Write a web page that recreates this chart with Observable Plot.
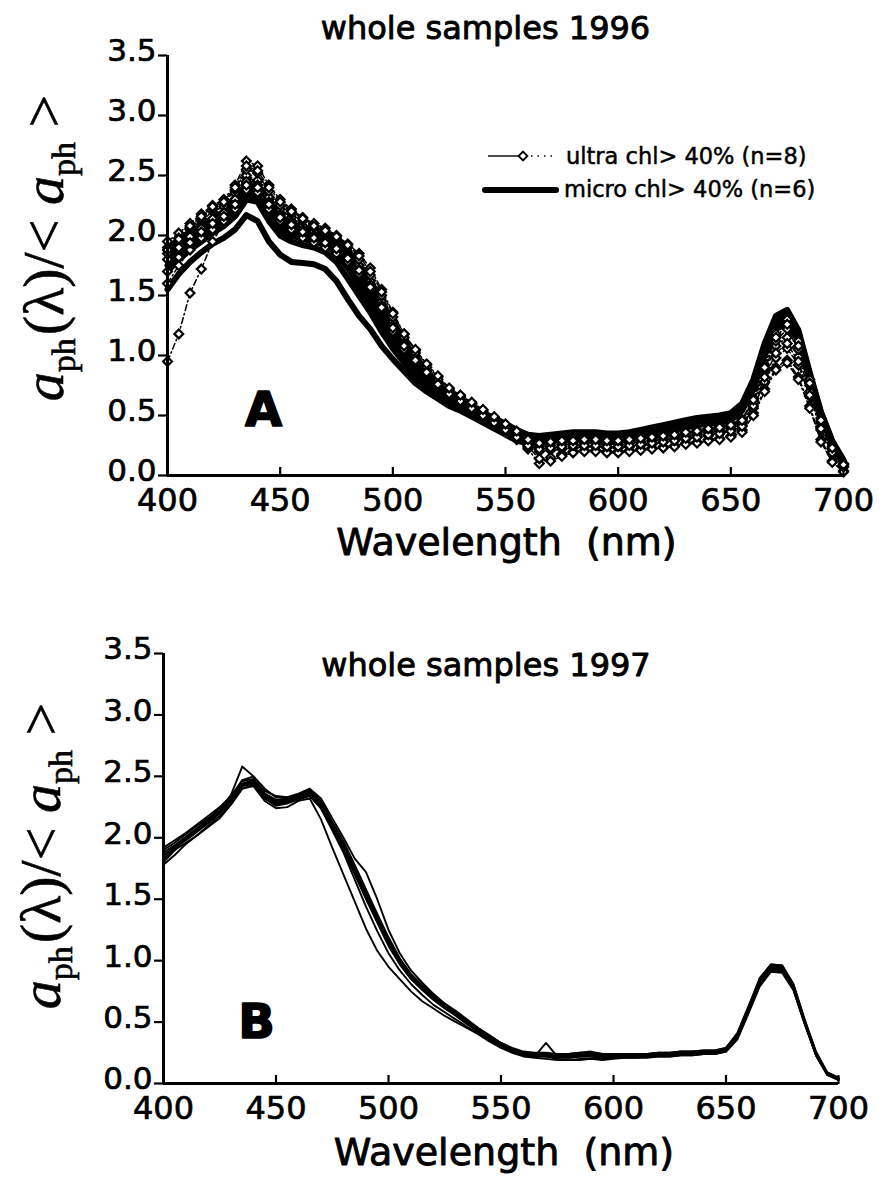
<!DOCTYPE html>
<html>
<head>
<meta charset="utf-8">
<script src="https://cdn.jsdelivr.net/npm/d3@7"></script>
<script src="https://cdn.jsdelivr.net/npm/@observablehq/plot@0.6"></script>
<style>
  html, body { margin: 0; padding: 0; background: #fff; }
  #chart { width: 887px; }
  #chart svg { display: block; }
  #chart g[aria-label="y-axis tick label"],
  #chart g[aria-label="x-axis tick label"] { stroke: black; stroke-width: 0.7px; }
</style>
</head>
<body>
<div id="chart"></div>
<script>
// Wavelength grid (nm), 5 nm steps
const wavelengths = [
  400,405,410,415,420,425,430,435,440,445,
  450,455,460,465,470,475,480,485,490,495,
  500,505,510,515,520,525,530,535,540,545,
  550,555,560,565,570,575,580,585,590,595,
  600,605,610,615,620,625,630,635,640,645,
  650,655,660,665,670,675,680,685,690,695,
  700
];

const xTicks = [400, 450, 500, 550, 600, 650, 700];
const yTicks = [0, 0.5, 1, 1.5, 2, 2.5, 3, 3.5];

// 1996: microplankton-dominated samples (micro chl > 40%), n = 6
const micro1996 = [
  [1.55,1.68,1.78,1.86,1.93,1.98,2.05,2.17,2.12,1.95,
   1.84,1.78,1.77,1.76,1.72,1.62,1.47,1.33,1.22,1.08,
   0.97,0.87,0.77,0.70,0.64,0.58,0.54,0.49,0.44,0.39,
   0.34,0.29,0.27,0.28,0.29,0.30,0.31,0.31,0.31,0.30,
   0.30,0.31,0.33,0.35,0.37,0.39,0.41,0.43,0.44,0.45,
   0.47,0.56,0.78,1.08,1.30,1.35,1.18,0.84,0.52,0.28,
   0.12],
  [1.70,1.80,1.88,1.95,2.02,2.08,2.16,2.30,2.28,2.12,
   2.00,1.95,1.92,1.90,1.86,1.78,1.64,1.50,1.36,1.20,
   1.06,0.94,0.83,0.74,0.67,0.61,0.56,0.51,0.46,0.42,
   0.37,0.32,0.29,0.29,0.30,0.31,0.32,0.32,0.32,0.31,
   0.31,0.32,0.34,0.36,0.38,0.40,0.42,0.44,0.45,0.46,
   0.48,0.56,0.76,1.05,1.27,1.32,1.16,0.82,0.50,0.27,
   0.11],
  [1.80,1.88,1.95,2.02,2.08,2.13,2.22,2.36,2.34,2.20,
   2.08,2.03,2.00,1.98,1.95,1.88,1.76,1.62,1.47,1.30,
   1.14,1.00,0.88,0.78,0.70,0.63,0.58,0.53,0.48,0.44,
   0.39,0.34,0.30,0.30,0.31,0.32,0.33,0.33,0.33,0.32,
   0.32,0.33,0.35,0.37,0.39,0.41,0.43,0.45,0.46,0.47,
   0.49,0.57,0.77,1.06,1.28,1.33,1.17,0.83,0.51,0.27,
   0.11],
  [1.85,1.92,1.98,2.05,2.12,2.17,2.27,2.40,2.38,2.25,
   2.14,2.08,2.05,2.03,2.00,1.94,1.83,1.70,1.55,1.38,
   1.21,1.06,0.93,0.82,0.73,0.66,0.60,0.55,0.50,0.46,
   0.41,0.36,0.32,0.31,0.32,0.33,0.34,0.34,0.34,0.33,
   0.33,0.34,0.36,0.38,0.40,0.42,0.44,0.46,0.47,0.48,
   0.50,0.58,0.78,1.08,1.31,1.36,1.19,0.84,0.52,0.28,
   0.12],
  [1.75,1.84,1.92,1.98,2.05,2.10,2.19,2.32,2.30,2.16,
   2.05,2.00,1.97,1.95,1.92,1.85,1.73,1.58,1.42,1.26,
   1.10,0.97,0.86,0.76,0.68,0.62,0.57,0.52,0.47,0.43,
   0.38,0.33,0.29,0.28,0.29,0.30,0.30,0.30,0.30,0.29,
   0.29,0.30,0.32,0.34,0.36,0.38,0.40,0.42,0.43,0.44,
   0.46,0.54,0.72,1.00,1.22,1.27,1.12,0.79,0.48,0.26,
   0.10],
  [1.90,1.96,2.02,2.08,2.14,2.20,2.30,2.43,2.41,2.28,
   2.16,2.10,2.07,2.05,2.03,1.98,1.88,1.76,1.62,1.45,
   1.28,1.12,0.98,0.86,0.76,0.68,0.62,0.57,0.52,0.48,
   0.43,0.38,0.34,0.33,0.34,0.35,0.36,0.36,0.36,0.35,
   0.35,0.36,0.38,0.40,0.42,0.44,0.46,0.48,0.49,0.50,
   0.52,0.60,0.80,1.10,1.33,1.38,1.21,0.86,0.53,0.29,
   0.13]
];

// 1996: ultraplankton-dominated samples (ultra chl > 40%), n = 8
const ultra1996 = [
  [0.95,1.18,1.52,1.72,1.95,2.10,2.28,2.48,2.45,2.30,
   2.18,2.12,2.05,2.00,1.96,1.92,1.84,1.73,1.58,1.40,
   1.22,1.07,0.95,0.85,0.75,0.67,0.61,0.55,0.49,0.43,
   0.37,0.30,0.23,0.20,0.21,0.22,0.23,0.24,0.24,0.23,
   0.23,0.24,0.25,0.26,0.28,0.29,0.30,0.32,0.33,0.35,
   0.37,0.41,0.56,0.78,0.98,1.06,0.92,0.66,0.38,0.18,
   0.07],
  [1.95,2.02,2.10,2.18,2.25,2.30,2.42,2.62,2.58,2.42,
   2.30,2.22,2.15,2.10,2.06,2.00,1.93,1.85,1.73,1.55,
   1.36,1.18,1.04,0.92,0.82,0.72,0.66,0.60,0.54,0.48,
   0.42,0.36,0.30,0.28,0.29,0.30,0.30,0.31,0.31,0.30,
   0.30,0.31,0.32,0.33,0.34,0.35,0.36,0.38,0.39,0.41,
   0.43,0.47,0.64,0.92,1.18,1.30,1.12,0.80,0.48,0.24,
   0.10],
  [1.85,1.95,2.05,2.12,2.20,2.24,2.35,2.50,2.46,2.32,
   2.22,2.15,2.08,2.03,1.98,1.93,1.85,1.75,1.62,1.45,
   1.28,1.12,0.99,0.88,0.78,0.69,0.63,0.57,0.51,0.45,
   0.39,0.33,0.26,0.24,0.25,0.26,0.26,0.27,0.27,0.26,
   0.26,0.27,0.28,0.29,0.30,0.31,0.33,0.34,0.36,0.37,
   0.39,0.43,0.60,0.86,1.08,1.15,0.99,0.70,0.41,0.20,
   0.08],
  [1.60,1.75,1.88,1.98,2.05,2.12,2.22,2.38,2.36,2.22,
   2.12,2.05,1.98,1.94,1.90,1.85,1.78,1.68,1.55,1.38,
   1.20,1.05,0.94,0.84,0.74,0.66,0.60,0.54,0.48,0.42,
   0.36,0.30,0.22,0.10,0.15,0.18,0.20,0.21,0.21,0.20,
   0.20,0.21,0.22,0.23,0.24,0.25,0.27,0.28,0.30,0.31,
   0.33,0.38,0.52,0.72,0.90,0.96,0.82,0.58,0.30,0.12,
   0.04],
  [1.90,1.98,2.06,2.14,2.22,2.27,2.38,2.55,2.52,2.37,
   2.25,2.18,2.12,2.07,2.02,1.97,1.90,1.80,1.67,1.50,
   1.32,1.15,1.02,0.90,0.80,0.71,0.65,0.59,0.53,0.47,
   0.41,0.35,0.28,0.26,0.27,0.28,0.28,0.29,0.29,0.28,
   0.28,0.29,0.30,0.31,0.32,0.33,0.35,0.36,0.38,0.39,
   0.41,0.45,0.62,0.88,1.12,1.22,1.05,0.75,0.44,0.22,
   0.09],
  [1.80,1.90,1.99,2.06,2.14,2.19,2.30,2.45,2.42,2.28,
   2.17,2.11,2.05,2.00,1.96,1.91,1.83,1.72,1.59,1.42,
   1.25,1.10,0.97,0.86,0.76,0.67,0.61,0.55,0.49,0.43,
   0.37,0.31,0.24,0.14,0.12,0.16,0.19,0.20,0.20,0.19,
   0.19,0.20,0.21,0.22,0.23,0.24,0.26,0.27,0.29,0.30,
   0.32,0.36,0.50,0.70,0.88,0.94,0.80,0.56,0.28,0.11,
   0.03],
  [1.70,1.82,1.94,2.03,2.10,2.16,2.26,2.42,2.40,2.26,
   2.15,2.09,2.03,1.98,1.94,1.89,1.81,1.71,1.57,1.40,
   1.23,1.08,0.96,0.86,0.76,0.68,0.62,0.56,0.50,0.44,
   0.38,0.32,0.25,0.22,0.23,0.24,0.25,0.25,0.25,0.24,
   0.24,0.25,0.26,0.27,0.28,0.29,0.31,0.32,0.34,0.35,
   0.37,0.41,0.58,0.82,1.02,1.10,0.95,0.67,0.39,0.19,
   0.07],
  [1.88,1.97,2.08,2.16,2.24,2.28,2.40,2.58,2.54,2.40,
   2.28,2.20,2.14,2.08,2.04,1.99,1.92,1.83,1.70,1.53,
   1.35,1.18,1.05,0.93,0.83,0.73,0.67,0.61,0.55,0.49,
   0.43,0.37,0.30,0.27,0.28,0.29,0.29,0.30,0.30,0.29,
   0.29,0.30,0.31,0.32,0.33,0.34,0.36,0.37,0.39,0.40,
   0.42,0.46,0.63,0.90,1.15,1.26,1.08,0.77,0.46,0.23,
   0.09]
];

// 1997: whole samples
const whole1997 = [
  [1.85,1.92,1.98,2.05,2.12,2.20,2.30,2.42,2.45,2.35,
   2.30,2.30,2.33,2.35,2.25,2.08,1.92,1.72,1.52,1.33,
   1.14,0.98,0.86,0.77,0.69,0.62,0.56,0.49,0.43,0.37,
   0.31,0.27,0.24,0.23,0.23,0.22,0.22,0.23,0.23,0.22,
   0.22,0.22,0.22,0.22,0.23,0.23,0.24,0.24,0.25,0.25,
   0.27,0.38,0.60,0.82,0.94,0.93,0.78,0.50,0.24,0.08,
   0.04],
  [1.80,1.90,2.00,2.08,2.15,2.22,2.35,2.58,2.50,2.32,
   2.26,2.28,2.35,2.38,2.28,2.10,1.94,1.75,1.55,1.36,
   1.17,1.00,0.88,0.79,0.71,0.64,0.57,0.50,0.44,0.38,
   0.32,0.28,0.25,0.24,0.24,0.23,0.23,0.24,0.24,0.23,
   0.23,0.23,0.23,0.23,0.24,0.24,0.25,0.25,0.26,0.26,
   0.28,0.40,0.62,0.84,0.96,0.95,0.80,0.51,0.25,0.09,
   0.04],
  [1.82,1.90,1.96,2.02,2.10,2.18,2.28,2.40,2.42,2.30,
   2.24,2.25,2.30,2.32,2.15,1.92,1.70,1.48,1.26,1.08,
   0.95,0.85,0.75,0.67,0.61,0.55,0.50,0.45,0.40,0.34,
   0.29,0.25,0.22,0.21,0.20,0.19,0.19,0.20,0.20,0.19,
   0.20,0.21,0.21,0.22,0.22,0.22,0.23,0.23,0.24,0.24,
   0.26,0.36,0.58,0.80,0.92,0.91,0.76,0.49,0.23,0.07,
   0.03],
  [1.90,1.96,2.03,2.10,2.16,2.24,2.33,2.46,2.48,2.38,
   2.34,2.33,2.36,2.40,2.32,2.16,2.00,1.83,1.72,1.50,
   1.25,1.06,0.92,0.82,0.73,0.65,0.59,0.52,0.45,0.39,
   0.33,0.28,0.25,0.24,0.24,0.23,0.23,0.24,0.24,0.23,
   0.23,0.23,0.23,0.23,0.24,0.24,0.25,0.25,0.26,0.26,
   0.28,0.39,0.62,0.86,0.97,0.96,0.80,0.51,0.25,0.08,
   0.04],
  [1.78,1.86,1.95,2.02,2.09,2.16,2.27,2.40,2.43,2.32,
   2.27,2.28,2.31,2.34,2.24,2.07,1.90,1.70,1.50,1.31,
   1.12,0.97,0.85,0.76,0.68,0.61,0.55,0.48,0.42,0.36,
   0.30,0.26,0.23,0.22,0.33,0.22,0.21,0.22,0.22,0.21,
   0.21,0.21,0.21,0.21,0.22,0.22,0.23,0.23,0.24,0.24,
   0.26,0.36,0.57,0.79,0.91,0.90,0.76,0.48,0.23,0.07,
   0.03],
  [1.88,1.94,2.01,2.08,2.14,2.22,2.32,2.44,2.47,2.36,
   2.31,2.31,2.34,2.37,2.27,2.10,1.94,1.74,1.54,1.35,
   1.16,0.99,0.87,0.78,0.70,0.63,0.57,0.50,0.44,0.38,
   0.32,0.28,0.25,0.24,0.24,0.23,0.24,0.25,0.26,0.24,
   0.23,0.23,0.23,0.24,0.25,0.25,0.26,0.26,0.27,0.27,
   0.29,0.40,0.62,0.84,0.95,0.94,0.79,0.50,0.24,0.08,
   0.04],
  [1.83,1.91,1.99,2.06,2.13,2.21,2.31,2.43,2.46,2.34,
   2.29,2.29,2.32,2.36,2.26,2.09,1.93,1.73,1.53,1.34,
   1.15,0.98,0.86,0.77,0.69,0.62,0.56,0.49,0.43,0.37,
   0.31,0.27,0.24,0.23,0.22,0.20,0.19,0.19,0.20,0.20,
   0.21,0.22,0.22,0.22,0.23,0.23,0.24,0.24,0.25,0.25,
   0.27,0.38,0.60,0.82,0.93,0.92,0.77,0.49,0.23,0.07,
   0.03],
  [1.86,1.93,2.00,2.07,2.14,2.21,2.30,2.42,2.44,2.33,
   2.28,2.29,2.32,2.35,2.24,2.06,1.88,1.66,1.44,1.24,
   1.06,0.92,0.81,0.72,0.64,0.58,0.52,0.46,0.41,0.35,
   0.30,0.26,0.23,0.22,0.22,0.21,0.21,0.22,0.22,0.21,
   0.21,0.22,0.22,0.22,0.23,0.23,0.24,0.24,0.25,0.25,
   0.27,0.37,0.59,0.81,0.93,0.92,0.77,0.49,0.23,0.08,
   0.04],
  [1.92,1.98,2.04,2.11,2.18,2.25,2.34,2.47,2.50,2.40,
   2.33,2.32,2.35,2.39,2.30,2.13,1.97,1.78,1.58,1.38,
   1.19,1.02,0.89,0.80,0.72,0.65,0.58,0.51,0.45,0.39,
   0.33,0.29,0.26,0.25,0.25,0.24,0.24,0.25,0.25,0.24,
   0.24,0.24,0.24,0.24,0.25,0.25,0.26,0.26,0.27,0.27,
   0.29,0.41,0.63,0.85,0.97,0.96,0.81,0.52,0.26,0.09,
   0.05]
];

const titles = ["whole samples 1996", "whole samples 1997"];
const panelLetters = ["A", "B"];
const xLabel = "Wavelength  (nm)";
const legendLabels = ["ultra chl> 40% (n=8)", "micro chl> 40% (n=6)"];

// long-format rows for Plot
function toRows(seriesList, group) {
  const rows = [];
  seriesList.forEach((values, s) => {
    values.forEach((v, i) => rows.push({wavelength: wavelengths[i], value: v, series: `${group}-${s}`}));
  });
  return rows;
}

const microRows = toRows(micro1996, "micro");
const ultraRows = toRows(ultra1996, "ultra");
const rows1997 = toRows(whole1997, "whole");

const SANS = "DejaVu Sans, Arial, sans-serif";
const SERIF = "Liberation Serif, Times New Roman, serif";

function frameMarks({title, titleDx, titleDy, letter, letterDx, letterDy, labelDx, labelDy}) {
  return [
    Plot.ruleX([400], {strokeWidth: 3}),
    Plot.ruleY([0], {strokeWidth: 3.2}),
    // y ticks (outward) and their labels, the labels sitting slightly above each tick
    Plot.axisY({ticks: yTicks, tickSize: 9, strokeWidth: 2.2, text: null, label: null}),
    Plot.axisY({ticks: yTicks, tickFormat: d3.format(".1f"), tickSize: 0, tickPadding: 11,
      fontSize: 31, dy: -4, label: null}),
    // x labels below, x ticks pointing up into the plot
    Plot.axisX({ticks: xTicks, tickSize: 0, tickPadding: 13, fontSize: 32, label: null}),
    Plot.axisX({ticks: xTicks, anchor: "top", frameAnchor: "bottom", tickSize: 9,
      strokeWidth: 2.2, text: null, label: null}),
    Plot.text([title], {frameAnchor: "top", dx: titleDx, dy: titleDy, lineAnchor: "bottom",
      fontSize: 32, fill: "black", stroke: "black", strokeWidth: 0.9}),
    Plot.text([xLabel], {frameAnchor: "bottom", dx: labelDx, dy: labelDy, lineAnchor: "bottom",
      fontSize: 38, fill: "black", stroke: "black", strokeWidth: 0.9}),
    Plot.text([letter], {frameAnchor: "bottom-left", dx: letterDx, dy: letterDy, lineAnchor: "bottom",
      textAnchor: "middle", fontSize: 48, fontWeight: "bold", fill: "black", stroke: "black", strokeWidth: 1.6})
  ];
}

// y-axis label: a_ph(λ)/< a_ph >
function addYLabel(svg, x, y) {
  const t = d3.select(svg).append("text")
    .attr("transform", `translate(${x},${y}) rotate(-90)`)
    .attr("text-anchor", "middle")
    .attr("font-family", SERIF)
    .attr("font-size", 58)
    .attr("fill", "black")
    .attr("stroke", "black")
    .attr("stroke-width", 0.6);
  t.append("tspan").attr("font-style", "italic").text("a");
  t.append("tspan").attr("font-size", 34).attr("dy", 12).text("ph");
  t.append("tspan").attr("dy", -12).attr("dx", 3).text("(λ)/< ");
  t.append("tspan").attr("font-style", "italic").text("a");
  t.append("tspan").attr("font-size", 34).attr("dy", 12).text("ph");
  t.append("tspan").attr("dy", -12).text(" >");
}

const chart = document.getElementById("chart");

// Panel A — 1996
const svgA = Plot.plot({
  width: 887, height: 590,
  marginTop: 55, marginBottom: 115, marginLeft: 167, marginRight: 44,
  x: {domain: [400, 700]},
  y: {domain: [0, 3.5]},
  style: {fontFamily: SANS, color: "black", background: "white", overflow: "visible"},
  marks: [
    Plot.line(microRows, {x: "wavelength", y: "value", z: "series", stroke: "black",
      strokeWidth: 6, strokeLinejoin: "round"}),
    Plot.line(ultraRows, {x: "wavelength", y: "value", z: "series", stroke: "black",
      strokeWidth: 1.5, strokeDasharray: "6,3,1.5,3"}),
    Plot.dot(ultraRows, {x: "wavelength", y: "value", symbol: "diamond2", r: 4,
      fill: "white", stroke: "black", strokeWidth: 2.2}),
    ...frameMarks({title: titles[0], titleDx: -20, titleDy: -17, letter: panelLetters[0],
      letterDx: 96, letterDy: -50, labelDx: 1, labelDy: 79})
  ]
});
addYLabel(svgA, 63, 248);

// legend for panel A
{
  const g = d3.select(svgA).append("g")
    .attr("font-family", SANS).attr("font-size", 22.5).attr("fill", "black")
    .attr("text-anchor", "start");
  const y1 = 156, y2 = 189;
  g.append("line").attr("x1", 488).attr("x2", 518).attr("y1", y1).attr("y2", y1)
    .attr("stroke", "black").attr("stroke-width", 1.4);
  g.append("path").attr("d", d3.symbol(d3.symbolDiamond2, 50)())
    .attr("transform", `translate(523,${y1})`)
    .attr("fill", "white").attr("stroke", "black").attr("stroke-width", 1.8);
  g.append("line").attr("x1", 531).attr("x2", 556).attr("y1", y1).attr("y2", y1)
    .attr("stroke", "black").attr("stroke-width", 1.4).attr("stroke-dasharray", "1.5,5");
  g.append("text").attr("x", 566).attr("y", y1).attr("dy", "0.35em")
    .attr("stroke", "black").attr("stroke-width", 0.5).text(legendLabels[0]);
  g.append("line").attr("x1", 485).attr("x2", 556).attr("y1", y2 + 1).attr("y2", y2 + 1)
    .attr("stroke", "black").attr("stroke-width", 6).attr("stroke-linecap", "round");
  g.append("text").attr("x", 564).attr("y", y2).attr("dy", "0.35em")
    .attr("stroke", "black").attr("stroke-width", 0.5).text(legendLabels[1]);
}
chart.appendChild(svgA);

// Panel B — 1997
const svgB = Plot.plot({
  width: 887, height: 590,
  marginTop: 63, marginBottom: 97, marginLeft: 163, marginRight: 49,
  x: {domain: [400, 700]},
  y: {domain: [0, 3.5]},
  style: {fontFamily: SANS, color: "black", background: "white", overflow: "visible"},
  marks: [
    Plot.line(rows1997, {x: "wavelength", y: "value", z: "series", stroke: "black",
      strokeWidth: 1.9, strokeLinejoin: "round"}),
    ...frameMarks({title: titles[1], titleDx: -15, titleDy: 22, letter: panelLetters[1],
      letterDx: 93, letterDy: -46, labelDx: 3, labelDy: 81})
  ]
});
addYLabel(svgB, 60, 266);
chart.appendChild(svgB);
</script>
</body>
</html>
